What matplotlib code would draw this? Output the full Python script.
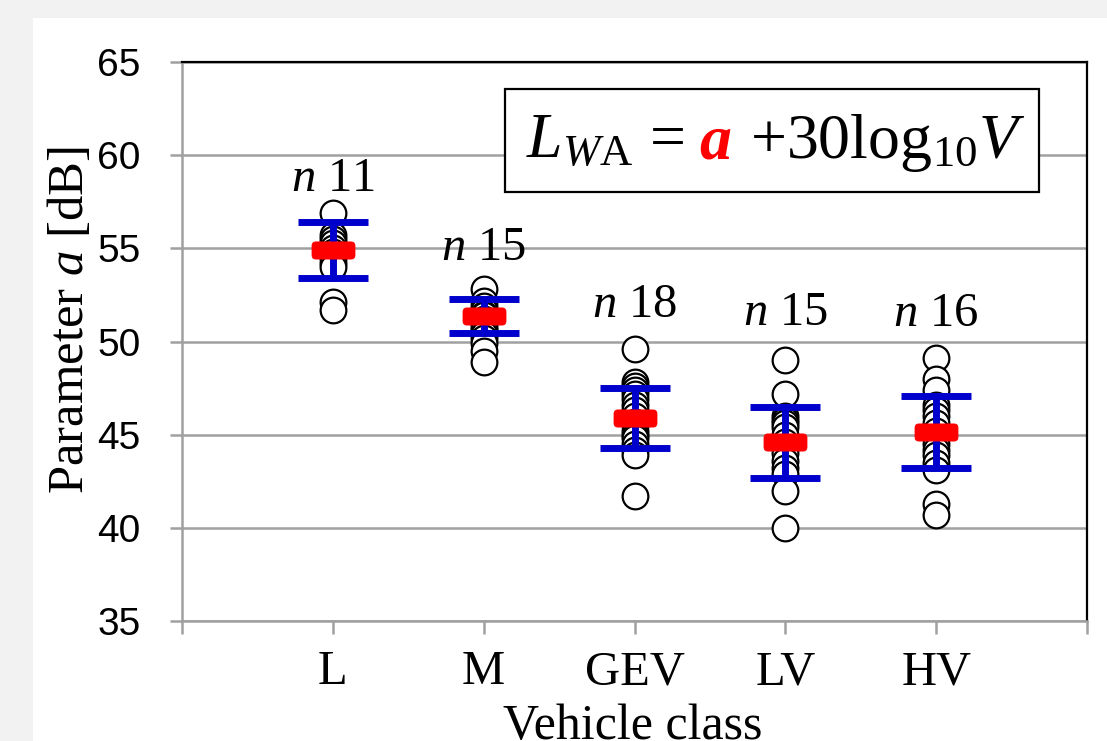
import numpy as np
import matplotlib
matplotlib.use("Agg")
import matplotlib.pyplot as plt
from matplotlib.patches import Rectangle, BoxStyle
from matplotlib.markers import MarkerStyle
from matplotlib.offsetbox import TextArea, HPacker, AnchoredOffsetbox, DrawingArea

# ---------------- data ----------------
categories = ["L", "M", "GEV", "LV", "HV"]
counts = [11, 15, 18, 15, 16]
pts_L = [56.9, 55.7, 55.5, 55.3, 55.0, 54.8, 54.5, 54.2, 54.0, 52.1, 51.7]
pts_M = [52.8, 52.2, 51.9, 51.7, 51.5, 51.4, 51.2, 51.0, 50.8, 50.6, 50.4,
         50.2, 49.9, 49.5, 48.9]
pts_GEV = [49.6, 47.8, 47.6, 47.4, 47.2, 46.9, 46.6, 46.3, 46.0, 45.7, 45.5,
           45.2, 45.0, 44.8, 44.5, 44.2, 43.9, 41.7]
pts_LV = [49.0, 47.2, 46.0, 45.8, 45.6, 45.4, 45.0, 44.6, 44.3, 44.0, 43.6,
          43.2, 42.9, 42.0, 40.0]
pts_HV = [49.1, 48.0, 47.4, 46.6, 46.3, 46.0, 45.6, 45.2, 44.8, 44.5, 44.2,
          43.9, 43.5, 43.1, 41.3, 40.7]
means = [54.9, 51.35, 45.9, 44.6, 45.15]
sds = [1.5, 0.92, 1.6, 1.9, 1.93]
n_label_y = [58.1, 54.4, 51.3, 50.9, 50.85]
yticks = [35, 40, 45, 50, 55, 60, 65]

points = [pts_L, pts_M, pts_GEV, pts_LV, pts_HV]

# ---------------- style ----------------
plt.rcParams["mathtext.fontset"] = "custom"
plt.rcParams["mathtext.rm"] = "Liberation Serif"
plt.rcParams["mathtext.it"] = "Liberation Serif:italic"
plt.rcParams["mathtext.bf"] = "Liberation Serif:bold"

SERIF = "Liberation Serif"
SANS = "Liberation Sans"
GRID = "#a0a0a0"
BLUE = "#0000CC"
RED = "#FF0000"

fig = plt.figure(figsize=(11.07, 7.41), dpi=100)
fig.patch.set_facecolor("#f2f2f2")
fig.patches.append(Rectangle((33 / 1107, 0), 1.0, (741 - 18) / 741,
                             transform=fig.transFigure, facecolor="white",
                             edgecolor="none", zorder=-5))

ax = fig.add_axes([182 / 1107, (741 - 621) / 741, 905 / 1107, 559 / 741])
ax.set_zorder(2)
ax.set_facecolor("white")
ax.set_xlim(0, 6)
ax.set_ylim(35, 65)

xpos = np.arange(1, len(categories) + 1)

# scatter points
for x, pts in zip(xpos, points):
    ax.plot(np.full(len(pts), x), pts, linestyle="none", marker="o",
            markersize=18.5, markerfacecolor="white", markeredgecolor="black",
            markeredgewidth=1.6, zorder=3)

# error bars
ax.errorbar(xpos, means, yerr=sds, fmt="none", ecolor=BLUE, elinewidth=5,
            capsize=25, capthick=5, zorder=4)

# red rounded-rectangle mean marker
rr = BoxStyle.Round(pad=0, rounding_size=0.09)(-0.5, -0.2, 1.0, 0.4, 1.0)
ax.plot(xpos, means, linestyle="none", marker=MarkerStyle(rr), markersize=31,
        markerfacecolor=RED, markeredgecolor=RED, markeredgewidth=0.5, zorder=5)

# n labels
for x, n, yl in zip(xpos, counts, n_label_y):
    ax.text(x, yl, r"$n$ %d" % n, ha="center", va="baseline",
            fontsize=35, family=SERIF, zorder=6)

# axes styling
ax.set_yticks(yticks)
ax.set_yticklabels([str(v) for v in yticks], family=SANS, fontsize=28)
ax.set_xticks(np.arange(0, 7))
ax.set_xticklabels([""] + categories + [""], family=SERIF, fontsize=35)
ax.tick_params(axis="y", direction="out", length=9, width=1.8, color=GRID, pad=21)
ax.tick_params(axis="x", direction="out", length=9, width=1.8, color=GRID, pad=12)
ax.yaxis.grid(True, color=GRID, linewidth=1.8)
ax.set_axisbelow(True)
for side in ["left", "bottom"]:
    ax.spines[side].set_color(GRID)
    ax.spines[side].set_linewidth(1.8)
for side in ["top", "right"]:
    ax.spines[side].set_color("black")
    ax.spines[side].set_linewidth(1.6)

ax.text(-0.123, 0.538, r"Parameter $a$ [dB]", transform=ax.transAxes,
        rotation=90, ha="center", va="center", fontsize=36.5, family=SERIF)
ax.text(0.498, -0.147, "Vehicle class", transform=ax.transAxes,
        ha="center", va="top", fontsize=36, family=SERIF)

# equation box
x0, x1 = (505 - 182) / 905, (1039 - 182) / 905
y0, y1 = (621 - 192) / 559, (621 - 89) / 559
ax.add_patch(Rectangle((x0, y0), x1 - x0, y1 - y0, transform=ax.transAxes,
                       facecolor="white", edgecolor="black", linewidth=1.6,
                       zorder=7))
fs = 46
t1 = TextArea(r"$L_{W\mathrm{A}}$ =", textprops=dict(fontsize=fs, family=SERIF))
t2 = TextArea("a", textprops=dict(fontsize=fs, family=SERIF, color=RED,
                                   fontweight="bold", fontstyle="italic"))
t3 = TextArea(r"+30log$_{10}$$V$", textprops=dict(fontsize=fs, family=SERIF))
gap1 = DrawingArea(11, 1)
gap2 = DrawingArea(13, 1)
box = HPacker(children=[t1, gap1, t2, gap2, t3], align="baseline", pad=0, sep=0)
anch = AnchoredOffsetbox(loc="center", child=box, frameon=False,
                         bbox_to_anchor=((x0 + x1) / 2 + 0.004, (y0 + y1) / 2 - 0.005),
                         bbox_transform=ax.transAxes, borderpad=0, pad=0)
anch.set_zorder(8)
ax.add_artist(anch)

fig.savefig("out.png", dpi=100, facecolor=fig.get_facecolor())
